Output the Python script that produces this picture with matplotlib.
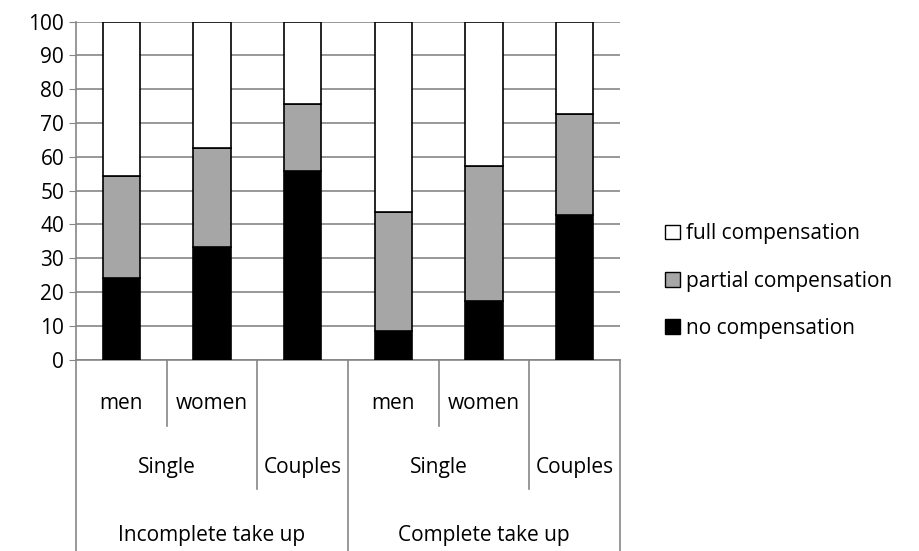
import matplotlib
matplotlib.use('Agg')
import matplotlib.pyplot as plt
from matplotlib.patches import Patch

plt.rcParams['font.family'] = ['Liberation Sans Narrow', 'Open Sans', 'DejaVu Sans']

sub_labels = ['men', 'women', '', 'men', 'women', '']
no_comp = [24.0, 33.4, 55.8, 8.4, 17.4, 42.7]
partial_top = [54.4, 62.7, 75.7, 43.7, 57.4, 72.8]
partial_comp = [p - n for p, n in zip(partial_top, no_comp)]
full_comp = [100 - p for p in partial_top]

fig = plt.figure(figsize=(9.2, 5.51), dpi=100)
ax = fig.add_axes([76/920, 1-359.5/551, (620-76)/920, 337.8/551])
x = range(len(no_comp))
w = 0.41
ax.bar(x, no_comp, w, color='black', edgecolor='black', lw=1.2, label='no compensation', zorder=3)
ax.bar(x, partial_comp, w, bottom=no_comp, color='#a6a6a6', edgecolor='black', lw=1.2,
       label='partial compensation', zorder=3)
ax.bar(x, full_comp, w, bottom=partial_top, color='white', edgecolor='black', lw=1.2,
       label='full compensation', zorder=3)

ax.set_xlim(-0.5, 5.5)
ax.set_ylim(0, 100)
ax.set_yticks(range(0, 101, 10))
ax.tick_params(axis='y', labelsize=15, length=5, color='#868686')
ax.set_xticks([])
ax.yaxis.grid(True, color='#868686', lw=1.2)
ax.set_axisbelow(True)
for s in ['top', 'right', 'bottom']:
    ax.spines[s].set_visible(False)
ax.spines['left'].set_color('#868686')
ax.spines['left'].set_linewidth(1.2)

tr = ax.get_xaxis_transform()
lc = '#868686'
ax.plot([-0.5, 5.5], [0, 0], color=lc, lw=1.2, transform=tr, clip_on=False)
# category separators
for xv in [-0.5, 2.5, 5.5]:
    ax.plot([xv, xv], [0, -0.57], color=lc, lw=1.2, transform=tr, clip_on=False)
for xv in [1.5, 4.5]:
    ax.plot([xv, xv], [0, -0.383], color=lc, lw=1.2, transform=tr, clip_on=False)
for xv in [0.5, 3.5]:
    ax.plot([xv, xv], [0, -0.197], color=lc, lw=1.2, transform=tr, clip_on=False)

fs = 15
for i, t in enumerate(sub_labels):
    if t:
        ax.text(i, -0.129, t, transform=tr, ha='center', va='center', fontsize=fs)
for xc, t in [(0.5, 'Single'), (2, 'Couples'), (3.5, 'Single'), (5, 'Couples')]:
    ax.text(xc, -0.321, t, transform=tr, ha='center', va='center', fontsize=fs)
for xc, t in [(1, 'Incomplete take up'), (4, 'Complete take up')]:
    ax.text(xc, -0.52, t, transform=tr, ha='center', va='center', fontsize=fs)

handles = [Patch(facecolor=c, edgecolor='black', label=l) for c, l in
           [('white', 'full compensation'), ('#a6a6a6', 'partial compensation'),
            ('black', 'no compensation')]]
fig.legend(handles=handles, loc='center left', bbox_to_anchor=(655/920, 1-281/551),
           frameon=False, fontsize=fs, handlelength=0.7, handleheight=0.7,
           handletextpad=0.3, labelspacing=1.25, borderpad=0)

fig.savefig('out.png', dpi=100)
